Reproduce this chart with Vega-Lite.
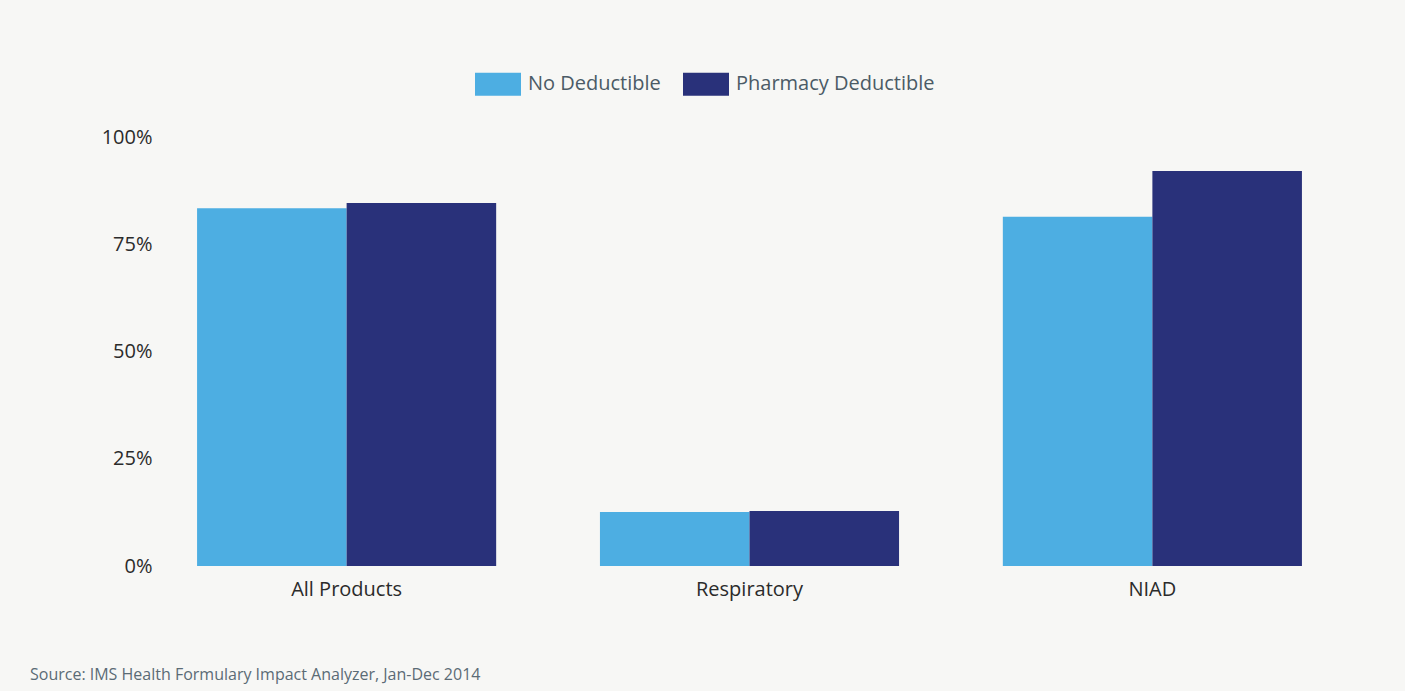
{
  "$schema": "https://vega.github.io/schema/vega-lite/v6.json",
  "autosize": "none",
  "width": 1179,
  "height": 429,
  "padding": {"left": 160, "top": 137, "right": 66, "bottom": 125},
  "background": "#f7f7f5",
  "config": {
    "view": {"stroke": null},
    "font": "Open Sans",
    "axis": {"labelFont": "Open Sans", "labelFontSize": 20, "labelColor": "#2b2b2b", "domain": false, "ticks": false, "tickSize": 0, "grid": false, "title": null},
    "legend": {"labelFont": "Open Sans", "labelFontSize": 20, "labelColor": "#4b5b66", "labelLimit": 0}
  },
  "title": {
    "text": "Source: IMS Health Formulary Impact Analyzer, Jan-Dec 2014",
    "orient": "bottom",
    "anchor": "start",
    "frame": "group",
    "dx": -130,
    "offset": 68,
    "font": "Open Sans",
    "fontSize": 16,
    "fontWeight": "normal",
    "color": "#5b6b75"
  },
  "data": {
    "values": [
      {"category": "All Products", "series": "No Deductible", "value": 0.834},
      {"category": "All Products", "series": "Pharmacy Deductible", "value": 0.846},
      {"category": "Respiratory", "series": "No Deductible", "value": 0.126},
      {"category": "Respiratory", "series": "Pharmacy Deductible", "value": 0.128},
      {"category": "NIAD", "series": "No Deductible", "value": 0.814},
      {"category": "NIAD", "series": "Pharmacy Deductible", "value": 0.921}
    ]
  },
  "mark": {"type": "bar"},
  "encoding": {
    "x": {
      "field": "category",
      "type": "nominal",
      "sort": ["All Products", "Respiratory", "NIAD"],
      "scale": {"paddingInner": 0.2576, "paddingOuter": 0.092},
      "axis": {"labelAngle": 0, "labelPadding": 13}
    },
    "xOffset": {
      "field": "series",
      "type": "nominal",
      "scale": {"paddingInner": 0, "paddingOuter": 0}
    },
    "y": {
      "field": "value",
      "type": "quantitative",
      "scale": {"domain": [0, 1]},
      "axis": {"values": [0, 0.25, 0.5, 0.75, 1], "format": ".0%", "labelPadding": 8}
    },
    "color": {
      "field": "series",
      "type": "nominal",
      "scale": {"domain": ["No Deductible", "Pharmacy Deductible"], "range": ["#4daee2", "#29317a"]},
      "legend": {
        "title": null,
        "orient": "none",
        "direction": "horizontal",
        "legendX": 315,
        "legendY": -76,
        "padding": 0,
        "symbolType": "M-1,-0.5H1V0.5H-1Z",
        "symbolSize": 2116,
        "symbolStrokeWidth": 0,
        "symbolOpacity": 1,
        "labelOffset": 7,
        "labelLimit": 0,
        "columnPadding": 22
      }
    }
  }
}
